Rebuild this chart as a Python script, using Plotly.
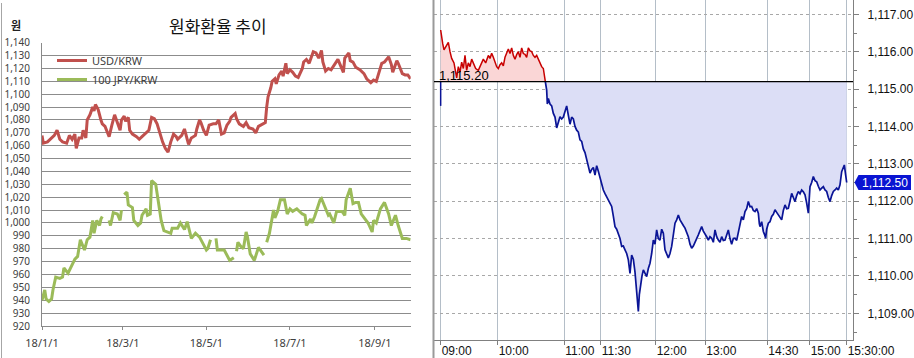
import plotly.graph_objects as go

# ---------------- Left chart data: daily FX (2018) ----------------
usd_dates = ['2018-01-01','2018-01-02','2018-01-05','2018-01-08','2018-01-10','2018-01-12','2018-01-14','2018-01-16',
             '2018-01-19','2018-01-21','2018-01-23','2018-01-25','2018-01-26','2018-01-28','2018-01-30','2018-01-31',
             '2018-02-02','2018-02-03','2018-02-05','2018-02-07','2018-02-08','2018-02-09','2018-02-11','2018-02-13',
             '2018-02-14','2018-02-16','2018-02-19','2018-02-21','2018-02-23','2018-02-25','2018-02-27','2018-02-28',
             '2018-03-02','2018-03-03','2018-03-05','2018-03-06','2018-03-08','2018-03-11','2018-03-13','2018-03-15',
             '2018-03-18','2018-03-20','2018-03-22','2018-03-24','2018-03-26','2018-03-28','2018-03-30','2018-04-01',
             '2018-04-03','2018-04-05','2018-04-07','2018-04-09','2018-04-10','2018-04-13','2018-04-15','2018-04-17',
             '2018-04-18','2018-04-20','2018-04-23','2018-04-24','2018-04-26','2018-04-27','2018-04-29','2018-05-01',
             '2018-05-03','2018-05-06','2018-05-08','2018-05-10','2018-05-12','2018-05-14','2018-05-16','2018-05-18',
             '2018-05-19','2018-05-22','2018-05-23','2018-05-25','2018-05-28','2018-05-30','2018-06-01','2018-06-04',
             '2018-06-06','2018-06-08','2018-06-10','2018-06-13','2018-06-14','2018-06-15','2018-06-17','2018-06-18',
             '2018-06-20','2018-06-21','2018-06-23','2018-06-25','2018-06-26','2018-06-28','2018-06-29','2018-07-01',
             '2018-07-03','2018-07-05','2018-07-07','2018-07-10','2018-07-11','2018-07-13','2018-07-15','2018-07-17',
             '2018-07-18','2018-07-20','2018-07-22','2018-07-24','2018-07-25','2018-07-27','2018-07-29','2018-07-31',
             '2018-08-03','2018-08-05','2018-08-07','2018-08-09','2018-08-10','2018-08-13','2018-08-14','2018-08-16',
             '2018-08-18','2018-08-21','2018-08-24','2018-08-26','2018-08-29','2018-08-31','2018-09-02','2018-09-04',
             '2018-09-06','2018-09-08','2018-09-11','2018-09-13','2018-09-14','2018-09-17','2018-09-18','2018-09-21',
             '2018-09-23','2018-09-25','2018-09-27']
usd = [1068,1062,1063,1066,1068,1072,1065,1063,
       1062,1068,1065,1069,1058,1066,1066,1072,
       1066,1080,1084,1090,1087,1092,1088,1080,
       1077,1075,1067,1076,1084,1078,1072,1080,
       1083,1079,1082,1072,1069,1067,1065,1067,
       1070,1072,1082,1081,1077,1069,1063,1058,
       1055,1063,1069,1067,1065,1068,1073,1065,
       1061,1066,1068,1073,1080,1078,1072,1068,
       1076,1077,1077,1080,1069,1070,1076,1079,
       1082,1085,1081,1077,1075,1078,1074,1073,
       1070,1075,1076,1078,1090,1098,1105,1110,
       1112,1108,1115,1118,1114,1124,1116,1119,
       1117,1114,1113,1120,1125,1127,1124,1130,
       1133,1132,1128,1134,1125,1118,1120,1119,
       1124,1127,1122,1117,1128,1132,1126,1125,
       1121,1119,1116,1112,1109,1111,1110,1118,
       1124,1125,1129,1123,1117,1126,1124,1116,
       1115,1115,1112]

jpy_dates = ['2018-01-01','2018-01-03','2018-01-04','2018-01-06','2018-01-08','2018-01-09','2018-01-11','2018-01-14',
             '2018-01-16','2018-01-17','2018-01-20','2018-01-22','2018-01-25','2018-01-27','2018-01-29','2018-02-01',
             '2018-02-03','2018-02-05','2018-02-07','2018-02-08','2018-02-10','2018-02-12','2018-02-13','2018-02-14',
             '2018-02-17',
             '2018-02-19','2018-02-20','2018-02-22','2018-02-25','2018-02-27','2018-02-28',
             '2018-03-01',
             '2018-03-02','2018-03-04','2018-03-05','2018-03-08','2018-03-09','2018-03-12','2018-03-14','2018-03-15',
             '2018-03-18','2018-03-19','2018-03-21','2018-03-22','2018-03-25','2018-03-27','2018-03-29','2018-03-31',
             '2018-04-03','2018-04-05','2018-04-06','2018-04-10','2018-04-12','2018-04-15','2018-04-17','2018-04-20',
             '2018-04-23','2018-04-26','2018-04-29','2018-05-01','2018-05-02','2018-05-04',
             '2018-05-06',
             '2018-05-08','2018-05-09','2018-05-14','2018-05-18','2018-05-21',
             '2018-05-22',
             '2018-05-23','2018-05-24','2018-05-26','2018-05-28','2018-05-30','2018-05-31','2018-06-02','2018-06-05',
             '2018-06-08','2018-06-10','2018-06-12',
             '2018-06-13',
             '2018-06-14','2018-06-16','2018-06-19','2018-06-20','2018-06-22','2018-06-24','2018-06-27','2018-06-29',
             '2018-07-01','2018-07-03','2018-07-06','2018-07-10','2018-07-12','2018-07-13','2018-07-16','2018-07-17',
             '2018-07-19','2018-07-23','2018-07-24','2018-07-27','2018-07-29','2018-07-30','2018-08-02','2018-08-04',
             '2018-08-08','2018-08-10','2018-08-11','2018-08-14','2018-08-16','2018-08-18','2018-08-20','2018-08-22',
             '2018-08-25','2018-08-27','2018-08-30','2018-08-31','2018-09-02','2018-09-05','2018-09-08','2018-09-11',
             '2018-09-13','2018-09-16','2018-09-18','2018-09-21','2018-09-24','2018-09-27']
jpy = [940,948,941,939,941,948,958,957,
       958,965,961,965,972,974,987,979,
       987,989,1002,992,1002,998,1003,1005,
       None,
       1002,998,1008,1007,1002,1010,
       None,
       1022,1024,1014,1012,1002,998,1000,1006,
       1011,1006,1007,1033,1030,1015,1002,994,
       993,992,996,996,1000,995,1001,988,
       992,989,983,979,980,987,
       None,
       988,979,979,971,973,
       None,
       978,985,982,980,993,989,976,971,
       981,978,975,
       None,
       985,992,1010,1004,1009,1018,1018,1007,
       1011,1009,1011,1007,1006,998,1003,1000,
       1005,1018,1019,1012,1006,1007,1000,1009,
       1009,1006,1018,1027,1015,1016,1016,1007,
       1003,1000,993,1002,1000,1011,1016,1007,
       998,1006,998,988,988,987]

month_ticks = ['2018-01-01', '2018-03-01', '2018-05-01', '2018-07-01', '2018-09-01']
month_labels = ['18/1/1', '18/3/1', '18/5/1', '18/7/1', '18/9/1']

# ---------------- Right chart data: intraday USD/KRW (tick sequence) ----------------
base_price = 1115.20
open_price = 1114.55
last_price = 1112.50

up_seq = [20,23,26,30,33,38,43,48,53,60,
          64,68,73,78,83,88,93,98,103,108,
          113,118,125,133,140,148,155,163,168,173,
          178,183,188,193,198,203,208,213,218,223,
          228,233,238,243,248,253,258,263,268,273,
          278,283,288,293,298,303,308,313,318,323,
          328,331,334]
up_px = [1116.58,1116.30,1116.22,1116.05,1116.10,1116.20,1116.25,1116.00,1115.82,1115.70,
         1115.50,1115.30,1115.60,1115.45,1115.72,1115.55,1115.90,1115.50,1115.70,1115.60,
         1115.80,1115.70,1115.55,1115.50,1115.65,1115.80,1115.70,1115.90,1115.82,1115.96,
         1115.85,1115.72,1115.60,1115.55,1115.65,1115.70,1115.62,1115.85,1115.95,1116.07,
         1115.95,1116.10,1115.90,1115.80,1115.92,1116.00,1115.85,1116.10,1115.95,1115.93,
         1115.85,1116.10,1116.02,1116.00,1115.90,1115.85,1115.90,1115.80,1115.70,1115.60,
         1115.55,1115.40,1115.20]

down_seq = [334,338,340,343,348,353,358,363,368,373,
            378,383,388,393,398,403,408,413,418,423,
            428,433,438,443,448,453,458,463,468,473,
            478,483,488,493,498,503,508,513,518,525,
            533,538,543,548,553,558,563,568,573,578,
            583,588,593,598,603,608,611,613,616,620,
            624,628,633,638,643,648,653,658,663,668,
            673,678,683,688,693,698,703,708,713,718,
            723,728,733,738,743,748,753,758,763,768,
            773,778,783,788,793,798,803,808,813,818,
            823,828,833,838,843,848,853,858,863,868,
            873,878,883,888,893,898,903,908,913,918,
            923,928,933,938,943,948,953,958,963,968,
            973,976,978,983,988,992,995,998,1003,1008,
            1013,1018,1023,1028,1033,1038,1043,1048,1053,1058,
            1063,1068,1073,1078,1083,1088,1093,1098,1103,1108,
            1113,1118,1123,1126,1128,1133,1138,1143,1148,1153,
            1158,1163,1168,1173,1178,1183,1188,1193,1198,1203,
            1208,1213,1218,1223,1228,1231,1235,1238]
down_px = [1115.20,1114.97,1114.60,1114.75,1114.60,1114.55,1114.35,1114.25,1113.96,1114.10,
           1114.26,1114.20,1114.25,1114.40,1114.55,1114.30,1114.06,1114.25,1114.20,1114.00,
           1113.90,1113.85,1113.64,1113.60,1113.40,1113.30,1113.10,1112.90,1112.75,1112.85,
           1112.90,1112.70,1112.95,1112.80,1112.62,1112.50,1112.30,1112.20,1112.12,1112.00,
           1111.86,1111.60,1111.32,1111.25,1111.14,1111.00,1110.79,1110.80,1110.70,1110.60,
           1110.43,1110.07,1110.56,1110.45,1110.10,1109.45,1109.30,1109.05,1109.50,1109.80,
           1110.00,1110.16,1110.05,1109.98,1110.20,1110.34,1110.60,1110.96,1110.85,1111.23,
           1111.00,1110.96,1111.25,1111.14,1110.70,1110.60,1110.48,1110.60,1110.79,1111.10,
           1111.41,1111.50,1111.63,1111.50,1111.41,1111.35,1111.28,1111.15,1111.05,1110.85,
           1110.74,1110.80,1110.88,1111.00,1111.10,1111.20,1111.32,1111.20,1111.14,1111.05,
           1110.96,1111.05,1111.01,1110.90,1111.23,1111.05,1110.96,1110.90,1111.05,1110.95,
           1110.96,1111.10,1111.23,1111.00,1110.85,1111.00,1111.01,1110.95,1111.14,1111.35,
           1111.59,1111.50,1111.72,1111.80,1111.99,1111.85,1111.86,1111.75,1111.72,1111.80,
           1111.68,1111.40,1111.32,1111.45,1111.19,1111.10,1111.01,1111.25,1111.41,1111.45,
           1111.59,1111.65,1111.77,1111.70,1111.63,1111.55,1111.50,1111.75,1111.90,1111.80,
           1111.81,1112.00,1112.21,1112.10,1111.99,1112.15,1112.26,1112.20,1112.30,1112.25,
           1112.17,1111.95,1111.68,1112.10,1112.39,1112.50,1112.66,1112.55,1112.52,1112.40,
           1112.30,1112.35,1112.39,1112.30,1112.26,1112.10,1111.99,1112.15,1112.26,1112.30,
           1112.35,1112.30,1112.44,1112.79,1112.90,1112.97,1112.70,1112.50]

assert len(up_seq) == len(up_px) and len(down_seq) == len(down_px)
assert len(usd_dates) == len(usd) and len(jpy_dates) == len(jpy)

time_tick_seq = [20, 191, 391, 500, 665, 814, 1000, 1127, 1238]
time_tick_text = ['09:00', '10:00', '11:00', '11:30', '12:00', '13:00', '14:30', '15:00', '15:30:00']
price_ticks = [1109, 1110, 1111, 1112, 1113, 1114, 1115, 1116, 1117]

W, H = 914, 358
fig = go.Figure()

# ---- left chart traces ----
fig.add_trace(go.Scatter(x=usd_dates, y=usd, mode='lines', name='USD/KRW',
                         line=dict(color='#C0504D', width=3), xaxis='x', yaxis='y'))
fig.add_trace(go.Scatter(x=jpy_dates, y=jpy, mode='lines', name='100 JPY/KRW',
                         line=dict(color='#9BBB59', width=3), connectgaps=False, xaxis='x', yaxis='y'))

# ---- right chart traces ----
fig.add_trace(go.Scatter(x=up_seq, y=[base_price] * len(up_seq), mode='lines', line=dict(width=0),
                         showlegend=False, hoverinfo='skip', xaxis='x2', yaxis='y2'))
fig.add_trace(go.Scatter(x=up_seq, y=up_px, mode='lines', fill='tonexty', fillcolor='rgb(250,214,214)',
                         line=dict(color='#C80000', width=1.5), showlegend=False, xaxis='x2', yaxis='y2'))
fig.add_trace(go.Scatter(x=down_seq, y=[base_price] * len(down_seq), mode='lines', line=dict(width=0),
                         showlegend=False, hoverinfo='skip', xaxis='x2', yaxis='y2'))
fig.add_trace(go.Scatter(x=down_seq, y=down_px, mode='lines', fill='tonexty', fillcolor='rgb(220,222,246)',
                         line=dict(color='#0A1496', width=1.7), showlegend=False, xaxis='x2', yaxis='y2'))
fig.add_trace(go.Scatter(x=[up_seq[0], up_seq[0]], y=[open_price, base_price], mode='lines',
                         line=dict(color='#0A1496', width=1.5), showlegend=False, xaxis='x2', yaxis='y2'))

left_font = dict(family='Noto Sans, Noto Sans CJK KR', size=11, color='#404040')
ytick_font = dict(family='Noto Sans, Noto Sans CJK KR', size=10, color='#404040')
hts_font = dict(family='Liberation Sans, Arial', size=12, color='#111111')

fig.update_layout(
    width=W, height=H,
    margin=dict(l=0, r=0, t=0, b=0, autoexpand=False),
    paper_bgcolor='white', plot_bgcolor='white',
    showlegend=True,
    legend=dict(x=52 / W, y=1 - 46 / H, xanchor='left', yanchor='top', bgcolor='rgba(0,0,0,0)',
                font=left_font, itemwidth=30, tracegroupgap=0, traceorder='normal'),
    xaxis=dict(domain=[42 / W, 410.7 / W], type='date', range=['2018-01-01', '2018-09-27 03:00'],
               tickvals=month_ticks, ticktext=month_labels, showgrid=False, automargin=False,
               showline=True, linecolor='#8a8a8a', linewidth=1, ticks='outside', ticklen=3,
               tickcolor='#8a8a8a', tickfont=left_font, zeroline=False, ticklabelstandoff=4, tickangle=0),
    yaxis=dict(domain=[(H - 326) / H, (H - 42.7) / H], range=[920, 1140], tick0=920, dtick=10,
               tickformat=',d', showgrid=True, gridcolor='#8c8c8c', gridwidth=1, automargin=False,
               showline=True, linecolor='#8a8a8a', linewidth=1, ticks='', tickfont=ytick_font,
               zeroline=False, ticklabelstandoff=9),
    xaxis2=dict(domain=[434 / W, 853 / W], anchor='y2', range=[0, 1257], automargin=False,
                tickvals=time_tick_seq, ticktext=time_tick_text, ticklabelposition='outside right',
                tickangle=0, showgrid=True, gridcolor='#b4bec8', gridwidth=1, showline=True,
                linecolor='#808080', ticks='outside', ticklen=4, tickcolor='#808080', tickfont=hts_font,
                zeroline=False),
    yaxis2=dict(domain=[(H - 340) / H, 1], anchor='x2', side='right', range=[1108.286, 1117.383],
                tickvals=price_ticks, tickformat=',.2f', showgrid=True, gridcolor='#a8a8a8',
                griddash='dot', gridwidth=1, showline=True, linecolor='#808080', linewidth=1,
                ticks='outside', ticklen=5, tickcolor='#808080', tickfont=hts_font, zeroline=False,
                ticklabelstandoff=6, automargin=False,
                minor=dict(dtick=0.5, ticks='outside', ticklen=3, tickcolor='#808080', showgrid=False)),
)

shapes = [
    # left panel border
    dict(type='line', xref='paper', yref='paper', x0=1.5 / W, x1=1.5 / W, y0=0, y1=1 - 3 / H,
         line=dict(color='#a6a6a6', width=1)),
    # right panel left border
    dict(type='line', xref='paper', yref='paper', x0=433.5 / W, x1=433.5 / W, y0=0, y1=1,
         line=dict(color='#9a9a9a', width=2)),
    # previous close baseline
    dict(type='line', xref='x2 domain', yref='y2', x0=0, x1=1, y0=base_price, y1=base_price,
         line=dict(color='black', width=1.2)),
]
# last price tag (blue arrow box)
tx0, tx1, tx2 = 854.5 / W, 858.5 / W, 911 / W
hh = 0.2
shapes.append(dict(type='path', xref='paper', yref='y2',
                   path=f'M {tx0},{last_price} L {tx1},{last_price + hh} L {tx2},{last_price + hh} '
                        f'L {tx2},{last_price - hh} L {tx1},{last_price - hh} Z',
                   fillcolor='#0A14D2', line=dict(width=0), layer='above'))
fig.update_layout(shapes=shapes)

annotations = [
    dict(text='원화환율 추이', xref='paper', yref='paper', x=218 / W, y=1 - 26 / H, showarrow=False,
         font=dict(family='Noto Sans CJK KR', size=17, color='#111111'), xanchor='center', yanchor='middle'),
    dict(text='<b>원</b>', xref='paper', yref='paper', x=16 / W, y=1 - 25 / H, showarrow=False,
         font=dict(family='Noto Sans CJK KR', size=11, color='#222222'), xanchor='center', yanchor='middle'),
    dict(text=f'{base_price:,.2f}', xref='x2', yref='y2', x=9, y=base_price, showarrow=False,
         xanchor='left', yanchor='bottom', yshift=-3,
         font=dict(family='Liberation Sans, Arial', size=13, color='black')),
    dict(text=f'{last_price:,.2f}', xref='paper', yref='y2', x=(tx1 + tx2) / 2, y=last_price,
         showarrow=False, xanchor='center', yanchor='middle',
         font=dict(family='Liberation Sans, Arial', size=12, color='white')),
]
fig.update_layout(annotations=annotations)

fig.write_html('out.html')
